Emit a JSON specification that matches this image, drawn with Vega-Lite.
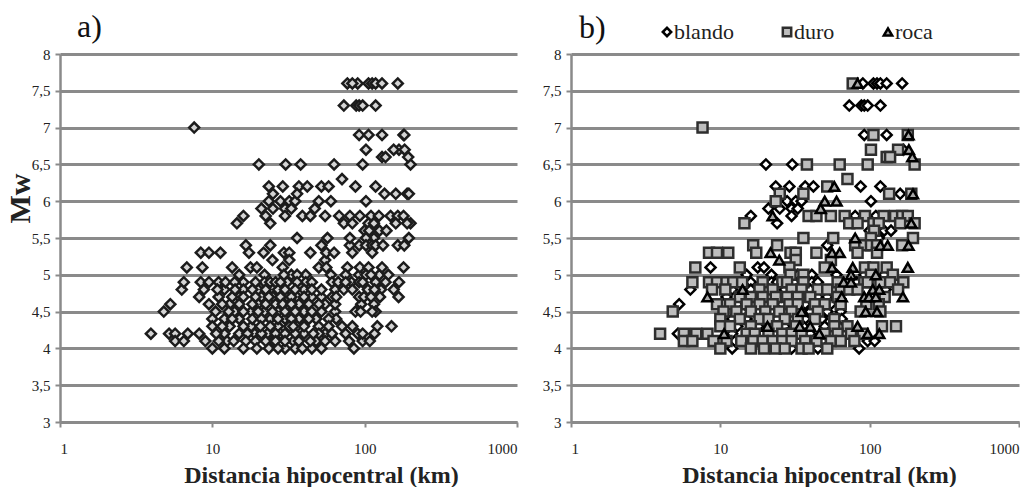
{
  "$schema": "https://vega.github.io/schema/vega-lite/v6.json",
  "background": "white",
  "padding": {"left": 5, "top": 11, "right": 0, "bottom": 0},
  "bounds": "flush",
  "spacing": 54,
  "resolve": {"legend": {"shape": "independent", "fill": "independent", "stroke": "independent"}},
  "config": {
    "font": "Liberation Serif",
    "view": {"stroke": null},
    "axis": {
      "labelFont": "Liberation Serif",
      "labelFontSize": 15,
      "labelColor": "#222222",
      "domainColor": "#8a8a8a",
      "domainWidth": 2.5,
      "tickColor": "#8a8a8a",
      "tickWidth": 2,
      "tickSize": 5,
      "gridColor": "#8a8a8a",
      "gridWidth": 3,
      "titleFont": "Liberation Serif",
      "titleFontWeight": "bold",
      "titleColor": "#222222"
    },
    "title": {"font": "Liberation Serif", "fontWeight": "normal", "fontSize": 32, "color": "#111111", "anchor": "start", "frame": "group"}
  },
  "datasets": {
    "sismos": [
      {"dist": 90, "mw": 7.6, "suelo": "blando"}, {"dist": 106, "mw": 7.6, "suelo": "blando"}, {"dist": 112, "mw": 7.6, "suelo": "blando"}, {"dist": 118, "mw": 7.6, "suelo": "blando"}, {"dist": 130, "mw": 7.6, "suelo": "blando"}, {"dist": 165, "mw": 7.6, "suelo": "blando"},
      {"dist": 73, "mw": 7.3, "suelo": "blando"}, {"dist": 88, "mw": 7.3, "suelo": "blando"}, {"dist": 92, "mw": 7.3, "suelo": "blando"}, {"dist": 97, "mw": 7.3, "suelo": "blando"}, {"dist": 118, "mw": 7.3, "suelo": "blando"},
      {"dist": 92, "mw": 6.9, "suelo": "blando"}, {"dist": 130, "mw": 6.9, "suelo": "blando"},
      {"dist": 168, "mw": 6.7, "suelo": "blando"},
      {"dist": 20.2, "mw": 6.5, "suelo": "blando"}, {"dist": 30.3, "mw": 6.5, "suelo": "blando"},
      {"dist": 23.5, "mw": 6.2, "suelo": "blando"}, {"dist": 29, "mw": 6.2, "suelo": "blando"}, {"dist": 37, "mw": 6.2, "suelo": "blando"}, {"dist": 42, "mw": 6.2, "suelo": "blando"}, {"dist": 87, "mw": 6.2, "suelo": "blando"}, {"dist": 118, "mw": 6.2, "suelo": "blando"},
      {"dist": 160, "mw": 6.1, "suelo": "blando"},
      {"dist": 28, "mw": 6.0, "suelo": "blando"}, {"dist": 32, "mw": 6.0, "suelo": "blando"}, {"dist": 35, "mw": 6.0, "suelo": "blando"}, {"dist": 102, "mw": 6.0, "suelo": "blando"},
      {"dist": 21, "mw": 5.9, "suelo": "blando"}, {"dist": 25, "mw": 5.9, "suelo": "blando"}, {"dist": 30, "mw": 5.9, "suelo": "blando"}, {"dist": 33, "mw": 5.9, "suelo": "blando"},
      {"dist": 16, "mw": 5.8, "suelo": "blando"}, {"dist": 30, "mw": 5.8, "suelo": "blando"}, {"dist": 80, "mw": 5.8, "suelo": "blando"}, {"dist": 110, "mw": 5.8, "suelo": "blando"},
      {"dist": 24, "mw": 5.7, "suelo": "blando"},
      {"dist": 100, "mw": 5.6, "suelo": "blando"}, {"dist": 125, "mw": 5.6, "suelo": "blando"}, {"dist": 139, "mw": 5.6, "suelo": "blando"},
      {"dist": 115, "mw": 5.5, "suelo": "blando"},
      {"dist": 52, "mw": 5.4, "suelo": "blando"},
      {"dist": 8.6, "mw": 5.1, "suelo": "blando"}, {"dist": 17.8, "mw": 5.1, "suelo": "blando"}, {"dist": 19.6, "mw": 5.1, "suelo": "blando"},
      {"dist": 15, "mw": 5.0, "suelo": "blando"}, {"dist": 22, "mw": 5.0, "suelo": "blando"}, {"dist": 33, "mw": 5.0, "suelo": "blando"}, {"dist": 41, "mw": 5.0, "suelo": "blando"}, {"dist": 60, "mw": 5.0, "suelo": "blando"}, {"dist": 92, "mw": 5.0, "suelo": "blando"}, {"dist": 125, "mw": 5.0, "suelo": "blando"},
      {"dist": 16, "mw": 4.9, "suelo": "blando"}, {"dist": 22, "mw": 4.9, "suelo": "blando"}, {"dist": 24, "mw": 4.9, "suelo": "blando"}, {"dist": 31, "mw": 4.9, "suelo": "blando"}, {"dist": 41, "mw": 4.9, "suelo": "blando"}, {"dist": 45, "mw": 4.9, "suelo": "blando"}, {"dist": 82, "mw": 4.9, "suelo": "blando"},
      {"dist": 6.3, "mw": 4.8, "suelo": "blando"}, {"dist": 12, "mw": 4.8, "suelo": "blando"}, {"dist": 16, "mw": 4.8, "suelo": "blando"}, {"dist": 20, "mw": 4.8, "suelo": "blando"}, {"dist": 25, "mw": 4.8, "suelo": "blando"}, {"dist": 27, "mw": 4.8, "suelo": "blando"}, {"dist": 40, "mw": 4.8, "suelo": "blando"}, {"dist": 128, "mw": 4.8, "suelo": "blando"},
      {"dist": 11, "mw": 4.7, "suelo": "blando"}, {"dist": 15, "mw": 4.7, "suelo": "blando"}, {"dist": 21, "mw": 4.7, "suelo": "blando"}, {"dist": 25, "mw": 4.7, "suelo": "blando"}, {"dist": 31, "mw": 4.7, "suelo": "blando"}, {"dist": 36, "mw": 4.7, "suelo": "blando"}, {"dist": 45, "mw": 4.7, "suelo": "blando"}, {"dist": 52, "mw": 4.7, "suelo": "blando"},
      {"dist": 5.3, "mw": 4.6, "suelo": "blando"}, {"dist": 13, "mw": 4.6, "suelo": "blando"}, {"dist": 20, "mw": 4.6, "suelo": "blando"}, {"dist": 26, "mw": 4.6, "suelo": "blando"}, {"dist": 37, "mw": 4.6, "suelo": "blando"}, {"dist": 55, "mw": 4.6, "suelo": "blando"},
      {"dist": 14, "mw": 4.5, "suelo": "blando"}, {"dist": 18, "mw": 4.5, "suelo": "blando"}, {"dist": 22, "mw": 4.5, "suelo": "blando"}, {"dist": 27, "mw": 4.5, "suelo": "blando"}, {"dist": 33, "mw": 4.5, "suelo": "blando"}, {"dist": 40, "mw": 4.5, "suelo": "blando"}, {"dist": 52, "mw": 4.5, "suelo": "blando"}, {"dist": 64, "mw": 4.5, "suelo": "blando"},
      {"dist": 12, "mw": 4.4, "suelo": "blando"}, {"dist": 15, "mw": 4.4, "suelo": "blando"}, {"dist": 24, "mw": 4.4, "suelo": "blando"}, {"dist": 30, "mw": 4.4, "suelo": "blando"}, {"dist": 37, "mw": 4.4, "suelo": "blando"}, {"dist": 48, "mw": 4.4, "suelo": "blando"}, {"dist": 65, "mw": 4.4, "suelo": "blando"},
      {"dist": 13, "mw": 4.3, "suelo": "blando"}, {"dist": 18, "mw": 4.3, "suelo": "blando"}, {"dist": 27, "mw": 4.3, "suelo": "blando"}, {"dist": 36, "mw": 4.3, "suelo": "blando"}, {"dist": 50, "mw": 4.3, "suelo": "blando"},
      {"dist": 5.2, "mw": 4.2, "suelo": "blando"}, {"dist": 12, "mw": 4.2, "suelo": "blando"}, {"dist": 19, "mw": 4.2, "suelo": "blando"}, {"dist": 23, "mw": 4.2, "suelo": "blando"}, {"dist": 28, "mw": 4.2, "suelo": "blando"}, {"dist": 40, "mw": 4.2, "suelo": "blando"}, {"dist": 55, "mw": 4.2, "suelo": "blando"},
      {"dist": 12.5, "mw": 4.1, "suelo": "blando"}, {"dist": 25, "mw": 4.1, "suelo": "blando"}, {"dist": 34, "mw": 4.1, "suelo": "blando"}, {"dist": 48, "mw": 4.1, "suelo": "blando"}, {"dist": 97, "mw": 4.1, "suelo": "blando"}, {"dist": 108, "mw": 4.1, "suelo": "blando"},
      {"dist": 12, "mw": 4.0, "suelo": "blando"}, {"dist": 30, "mw": 4.0, "suelo": "blando"}, {"dist": 45, "mw": 4.0, "suelo": "blando"}, {"dist": 85, "mw": 4.0, "suelo": "blando"},

      {"dist": 77, "mw": 7.6, "suelo": "duro"},
      {"dist": 7.6, "mw": 7.0, "suelo": "duro"},
      {"dist": 106, "mw": 6.9, "suelo": "duro"}, {"dist": 180, "mw": 6.9, "suelo": "duro"},
      {"dist": 102, "mw": 6.7, "suelo": "duro"}, {"dist": 155, "mw": 6.7, "suelo": "duro"},
      {"dist": 130, "mw": 6.6, "suelo": "duro"}, {"dist": 137, "mw": 6.6, "suelo": "duro"},
      {"dist": 38, "mw": 6.5, "suelo": "duro"}, {"dist": 63, "mw": 6.5, "suelo": "duro"}, {"dist": 97, "mw": 6.5, "suelo": "duro"}, {"dist": 200, "mw": 6.5, "suelo": "duro"},
      {"dist": 71, "mw": 6.3, "suelo": "duro"},
      {"dist": 52, "mw": 6.2, "suelo": "duro"},
      {"dist": 25, "mw": 6.1, "suelo": "duro"}, {"dist": 36, "mw": 6.1, "suelo": "duro"}, {"dist": 135, "mw": 6.1, "suelo": "duro"}, {"dist": 190, "mw": 6.1, "suelo": "duro"},
      {"dist": 23.5, "mw": 6.0, "suelo": "duro"},
      {"dist": 39, "mw": 5.8, "suelo": "duro"}, {"dist": 44, "mw": 5.8, "suelo": "duro"}, {"dist": 55, "mw": 5.8, "suelo": "duro"}, {"dist": 68, "mw": 5.8, "suelo": "duro"}, {"dist": 93, "mw": 5.8, "suelo": "duro"}, {"dist": 124, "mw": 5.8, "suelo": "duro"}, {"dist": 148, "mw": 5.8, "suelo": "duro"}, {"dist": 165, "mw": 5.8, "suelo": "duro"}, {"dist": 180, "mw": 5.8, "suelo": "duro"},
      {"dist": 14.5, "mw": 5.7, "suelo": "duro"}, {"dist": 73, "mw": 5.7, "suelo": "duro"}, {"dist": 83, "mw": 5.7, "suelo": "duro"}, {"dist": 106, "mw": 5.7, "suelo": "duro"}, {"dist": 115, "mw": 5.7, "suelo": "duro"}, {"dist": 160, "mw": 5.7, "suelo": "duro"}, {"dist": 200, "mw": 5.7, "suelo": "duro"},
      {"dist": 107, "mw": 5.6, "suelo": "duro"},
      {"dist": 36, "mw": 5.5, "suelo": "duro"}, {"dist": 57, "mw": 5.5, "suelo": "duro"}, {"dist": 102, "mw": 5.5, "suelo": "duro"}, {"dist": 195, "mw": 5.5, "suelo": "duro"},
      {"dist": 16.6, "mw": 5.4, "suelo": "duro"}, {"dist": 24, "mw": 5.4, "suelo": "duro"}, {"dist": 80, "mw": 5.4, "suelo": "duro"}, {"dist": 92, "mw": 5.4, "suelo": "duro"}, {"dist": 102, "mw": 5.4, "suelo": "duro"}, {"dist": 112, "mw": 5.4, "suelo": "duro"}, {"dist": 165, "mw": 5.4, "suelo": "duro"},
      {"dist": 8.4, "mw": 5.3, "suelo": "duro"}, {"dist": 9.5, "mw": 5.3, "suelo": "duro"}, {"dist": 11.3, "mw": 5.3, "suelo": "duro"}, {"dist": 17.4, "mw": 5.3, "suelo": "duro"}, {"dist": 29.5, "mw": 5.3, "suelo": "duro"}, {"dist": 32, "mw": 5.3, "suelo": "duro"}, {"dist": 44, "mw": 5.3, "suelo": "duro"}, {"dist": 83, "mw": 5.3, "suelo": "duro"}, {"dist": 112, "mw": 5.3, "suelo": "duro"},
      {"dist": 32, "mw": 5.2, "suelo": "duro"}, {"dist": 55, "mw": 5.2, "suelo": "duro"},
      {"dist": 6.8, "mw": 5.1, "suelo": "duro"}, {"dist": 13.5, "mw": 5.1, "suelo": "duro"}, {"dist": 29, "mw": 5.1, "suelo": "duro"}, {"dist": 50, "mw": 5.1, "suelo": "duro"}, {"dist": 93, "mw": 5.1, "suelo": "duro"}, {"dist": 106, "mw": 5.1, "suelo": "duro"}, {"dist": 130, "mw": 5.1, "suelo": "duro"},
      {"dist": 29.5, "mw": 5.0, "suelo": "duro"}, {"dist": 36, "mw": 5.0, "suelo": "duro"}, {"dist": 102, "mw": 5.0, "suelo": "duro"}, {"dist": 143, "mw": 5.0, "suelo": "duro"},
      {"dist": 6.5, "mw": 4.9, "suelo": "duro"}, {"dist": 8.4, "mw": 4.9, "suelo": "duro"}, {"dist": 9.5, "mw": 4.9, "suelo": "duro"}, {"dist": 11, "mw": 4.9, "suelo": "duro"}, {"dist": 12.2, "mw": 4.9, "suelo": "duro"}, {"dist": 14, "mw": 4.9, "suelo": "duro"}, {"dist": 19.2, "mw": 4.9, "suelo": "duro"}, {"dist": 26, "mw": 4.9, "suelo": "duro"}, {"dist": 28, "mw": 4.9, "suelo": "duro"}, {"dist": 36, "mw": 4.9, "suelo": "duro"}, {"dist": 61, "mw": 4.9, "suelo": "duro"}, {"dist": 92, "mw": 4.9, "suelo": "duro"}, {"dist": 97, "mw": 4.9, "suelo": "duro"}, {"dist": 118, "mw": 4.9, "suelo": "duro"}, {"dist": 137, "mw": 4.9, "suelo": "duro"}, {"dist": 168, "mw": 4.9, "suelo": "duro"},
      {"dist": 8.8, "mw": 4.8, "suelo": "duro"}, {"dist": 10.8, "mw": 4.8, "suelo": "duro"}, {"dist": 18.3, "mw": 4.8, "suelo": "duro"}, {"dist": 22.4, "mw": 4.8, "suelo": "duro"}, {"dist": 30, "mw": 4.8, "suelo": "duro"}, {"dist": 35, "mw": 4.8, "suelo": "duro"}, {"dist": 45, "mw": 4.8, "suelo": "duro"}, {"dist": 52, "mw": 4.8, "suelo": "duro"}, {"dist": 64, "mw": 4.8, "suelo": "duro"}, {"dist": 73, "mw": 4.8, "suelo": "duro"}, {"dist": 83, "mw": 4.8, "suelo": "duro"}, {"dist": 155, "mw": 4.8, "suelo": "duro"},
      {"dist": 13.5, "mw": 4.7, "suelo": "duro"}, {"dist": 16, "mw": 4.7, "suelo": "duro"}, {"dist": 19.2, "mw": 4.7, "suelo": "duro"}, {"dist": 23.5, "mw": 4.7, "suelo": "duro"}, {"dist": 28, "mw": 4.7, "suelo": "duro"}, {"dist": 33, "mw": 4.7, "suelo": "duro"}, {"dist": 40, "mw": 4.7, "suelo": "duro"}, {"dist": 61, "mw": 4.7, "suelo": "duro"}, {"dist": 126, "mw": 4.7, "suelo": "duro"},
      {"dist": 9.5, "mw": 4.6, "suelo": "duro"}, {"dist": 11.6, "mw": 4.6, "suelo": "duro"}, {"dist": 15, "mw": 4.6, "suelo": "duro"}, {"dist": 18.3, "mw": 4.6, "suelo": "duro"}, {"dist": 22.4, "mw": 4.6, "suelo": "duro"}, {"dist": 29, "mw": 4.6, "suelo": "duro"}, {"dist": 33, "mw": 4.6, "suelo": "duro"}, {"dist": 43, "mw": 4.6, "suelo": "duro"}, {"dist": 50, "mw": 4.6, "suelo": "duro"}, {"dist": 64, "mw": 4.6, "suelo": "duro"}, {"dist": 95, "mw": 4.6, "suelo": "duro"}, {"dist": 115, "mw": 4.6, "suelo": "duro"},
      {"dist": 4.8, "mw": 4.5, "suelo": "duro"}, {"dist": 10.5, "mw": 4.5, "suelo": "duro"}, {"dist": 12.8, "mw": 4.5, "suelo": "duro"}, {"dist": 16, "mw": 4.5, "suelo": "duro"}, {"dist": 20, "mw": 4.5, "suelo": "duro"}, {"dist": 24.8, "mw": 4.5, "suelo": "duro"}, {"dist": 30, "mw": 4.5, "suelo": "duro"}, {"dist": 45, "mw": 4.5, "suelo": "duro"}, {"dist": 87, "mw": 4.5, "suelo": "duro"}, {"dist": 118, "mw": 4.5, "suelo": "duro"},
      {"dist": 10, "mw": 4.4, "suelo": "duro"}, {"dist": 13.5, "mw": 4.4, "suelo": "duro"}, {"dist": 18.3, "mw": 4.4, "suelo": "duro"}, {"dist": 21, "mw": 4.4, "suelo": "duro"}, {"dist": 27, "mw": 4.4, "suelo": "duro"}, {"dist": 33, "mw": 4.4, "suelo": "duro"}, {"dist": 43, "mw": 4.4, "suelo": "duro"}, {"dist": 58, "mw": 4.4, "suelo": "duro"},
      {"dist": 10, "mw": 4.3, "suelo": "duro"}, {"dist": 11.6, "mw": 4.3, "suelo": "duro"}, {"dist": 16, "mw": 4.3, "suelo": "duro"}, {"dist": 24, "mw": 4.3, "suelo": "duro"}, {"dist": 32, "mw": 4.3, "suelo": "duro"}, {"dist": 58, "mw": 4.3, "suelo": "duro"}, {"dist": 71, "mw": 4.3, "suelo": "duro"}, {"dist": 121, "mw": 4.3, "suelo": "duro"}, {"dist": 150, "mw": 4.3, "suelo": "duro"},
      {"dist": 3.95, "mw": 4.2, "suelo": "duro"}, {"dist": 5.7, "mw": 4.2, "suelo": "duro"}, {"dist": 6.9, "mw": 4.2, "suelo": "duro"}, {"dist": 8.2, "mw": 4.2, "suelo": "duro"}, {"dist": 15, "mw": 4.2, "suelo": "duro"}, {"dist": 17, "mw": 4.2, "suelo": "duro"}, {"dist": 21, "mw": 4.2, "suelo": "duro"}, {"dist": 26, "mw": 4.2, "suelo": "duro"}, {"dist": 30, "mw": 4.2, "suelo": "duro"}, {"dist": 35, "mw": 4.2, "suelo": "duro"}, {"dist": 50, "mw": 4.2, "suelo": "duro"}, {"dist": 61, "mw": 4.2, "suelo": "duro"}, {"dist": 75, "mw": 4.2, "suelo": "duro"}, {"dist": 90, "mw": 4.2, "suelo": "duro"},
      {"dist": 5.7, "mw": 4.1, "suelo": "duro"}, {"dist": 6.5, "mw": 4.1, "suelo": "duro"}, {"dist": 9, "mw": 4.1, "suelo": "duro"}, {"dist": 11, "mw": 4.1, "suelo": "duro"}, {"dist": 13.8, "mw": 4.1, "suelo": "duro"}, {"dist": 16.6, "mw": 4.1, "suelo": "duro"}, {"dist": 19.2, "mw": 4.1, "suelo": "duro"}, {"dist": 22.4, "mw": 4.1, "suelo": "duro"}, {"dist": 26, "mw": 4.1, "suelo": "duro"}, {"dist": 30, "mw": 4.1, "suelo": "duro"}, {"dist": 37, "mw": 4.1, "suelo": "duro"}, {"dist": 44, "mw": 4.1, "suelo": "duro"}, {"dist": 55, "mw": 4.1, "suelo": "duro"}, {"dist": 64, "mw": 4.1, "suelo": "duro"}, {"dist": 79, "mw": 4.1, "suelo": "duro"},
      {"dist": 10, "mw": 4.0, "suelo": "duro"}, {"dist": 16, "mw": 4.0, "suelo": "duro"}, {"dist": 19.6, "mw": 4.0, "suelo": "duro"}, {"dist": 23.5, "mw": 4.0, "suelo": "duro"}, {"dist": 27, "mw": 4.0, "suelo": "duro"}, {"dist": 35, "mw": 4.0, "suelo": "duro"}, {"dist": 39, "mw": 4.0, "suelo": "duro"}, {"dist": 52, "mw": 4.0, "suelo": "duro"},

      {"dist": 83, "mw": 7.6, "suelo": "roca"},
      {"dist": 182, "mw": 6.9, "suelo": "roca"},
      {"dist": 183, "mw": 6.7, "suelo": "roca"}, {"dist": 193, "mw": 6.6, "suelo": "roca"},
      {"dist": 58, "mw": 6.2, "suelo": "roca"},
      {"dist": 195, "mw": 6.1, "suelo": "roca"},
      {"dist": 50, "mw": 6.0, "suelo": "roca"}, {"dist": 60, "mw": 6.0, "suelo": "roca"},
      {"dist": 47, "mw": 5.9, "suelo": "roca"},
      {"dist": 22.4, "mw": 5.8, "suelo": "roca"},
      {"dist": 190, "mw": 5.7, "suelo": "roca"},
      {"dist": 80, "mw": 5.5, "suelo": "roca"},
      {"dist": 118, "mw": 5.4, "suelo": "roca"}, {"dist": 132, "mw": 5.4, "suelo": "roca"}, {"dist": 182, "mw": 5.4, "suelo": "roca"},
      {"dist": 21.7, "mw": 5.3, "suelo": "roca"}, {"dist": 56, "mw": 5.3, "suelo": "roca"}, {"dist": 63, "mw": 5.3, "suelo": "roca"},
      {"dist": 24.8, "mw": 5.2, "suelo": "roca"},
      {"dist": 56, "mw": 5.1, "suelo": "roca"}, {"dist": 77, "mw": 5.1, "suelo": "roca"}, {"dist": 180, "mw": 5.1, "suelo": "roca"},
      {"dist": 75, "mw": 5.0, "suelo": "roca"}, {"dist": 110, "mw": 5.0, "suelo": "roca"},
      {"dist": 67, "mw": 4.9, "suelo": "roca"}, {"dist": 75, "mw": 4.9, "suelo": "roca"},
      {"dist": 14.1, "mw": 4.8, "suelo": "roca"}, {"dist": 105, "mw": 4.8, "suelo": "roca"}, {"dist": 116, "mw": 4.8, "suelo": "roca"},
      {"dist": 8.2, "mw": 4.7, "suelo": "roca"}, {"dist": 65, "mw": 4.7, "suelo": "roca"}, {"dist": 92, "mw": 4.7, "suelo": "roca"}, {"dist": 99, "mw": 4.7, "suelo": "roca"}, {"dist": 110, "mw": 4.7, "suelo": "roca"}, {"dist": 167, "mw": 4.7, "suelo": "roca"},
      {"dist": 35, "mw": 4.5, "suelo": "roca"}, {"dist": 94, "mw": 4.5, "suelo": "roca"}, {"dist": 112, "mw": 4.5, "suelo": "roca"},
      {"dist": 20.7, "mw": 4.3, "suelo": "roca"}, {"dist": 34, "mw": 4.3, "suelo": "roca"}, {"dist": 40, "mw": 4.3, "suelo": "roca"}, {"dist": 83, "mw": 4.3, "suelo": "roca"},
      {"dist": 10.6, "mw": 4.2, "suelo": "roca"}, {"dist": 46, "mw": 4.2, "suelo": "roca"}, {"dist": 97, "mw": 4.2, "suelo": "roca"}, {"dist": 116, "mw": 4.2, "suelo": "roca"}
    ]
  },
  "hconcat": [
    {
      "width": 457,
      "height": 368,
      "title": {"text": "a)", "dx": 17, "offset": 3},
      "data": {"name": "sismos"},
      "mark": {"type": "point", "shape": "diamond", "filled": true, "fill": "#d4d4d4", "stroke": "#1c1c1c", "strokeWidth": 2.5, "size": 100, "opacity": 1},
      "encoding": {
        "x": {
          "field": "dist", "type": "quantitative",
          "scale": {"type": "log", "domain": [1, 1000]},
          "axis": {"values": [1, 10, 100, 1000], "format": "d", "grid": false, "labelPadding": 14, "title": "Distancia hipocentral (km)", "titleFontSize": 24, "titleX": 261, "titleY": 60, "titleBaseline": "alphabetic", "titleAlign": "center"}
        },
        "y": {
          "field": "mw", "type": "quantitative",
          "scale": {"domain": [3, 8], "nice": false, "zero": false},
          "axis": {"values": [3, 3.5, 4, 4.5, 5, 5.5, 6, 6.5, 7, 7.5, 8], "labelExpr": "replace(toString(datum.value), '.', ',')", "labelPadding": 5, "title": "Mw", "titleFontSize": 30, "titleAngle": -90, "titleX": -31, "titleY": 144, "titleAlign": "center", "titleBaseline": "alphabetic"}
        }
      }
    },
    {
      "width": 448,
      "height": 368,
      "title": {"text": "b)", "dx": 8, "dy": 27, "offset": 3},
      "data": {"name": "sismos"},
      "mark": {"type": "point", "filled": true, "strokeWidth": 2.5, "size": 100, "opacity": 1},
      "encoding": {
        "x": {
          "field": "dist", "type": "quantitative",
          "scale": {"type": "log", "domain": [1, 1000]},
          "axis": {"values": [1, 10, 100, 1000], "format": "d", "grid": false, "labelPadding": 14, "title": "Distancia hipocentral (km)", "titleFontSize": 24, "titleX": 248, "titleY": 60, "titleBaseline": "alphabetic", "titleAlign": "center"}
        },
        "y": {
          "field": "mw", "type": "quantitative",
          "scale": {"domain": [3, 8], "nice": false, "zero": false},
          "axis": {"values": [3, 3.5, 4, 4.5, 5, 5.5, 6, 6.5, 7, 7.5, 8], "labelExpr": "replace(toString(datum.value), '.', ',')", "labelPadding": 5, "title": null}
        },
        "shape": {
          "field": "suelo", "type": "nominal",
          "scale": {"domain": ["blando", "duro", "roca"], "range": ["diamond", "square", "triangle-up"]},
          "legend": {"orient": "none", "legendX": 85, "legendY": -33, "direction": "horizontal", "title": null, "labelFont": "Liberation Serif", "labelFontSize": 22, "labelColor": "#222222", "symbolSize": 70, "symbolStrokeWidth": 2.5, "columnPadding": 42, "labelOffset": -4}
        },
        "fill": {
          "field": "suelo", "type": "nominal",
          "scale": {"domain": ["blando", "duro", "roca"], "range": ["#ffffff", "#bdbdbd", "#a8a8a8"]},
          "legend": {"orient": "none", "legendX": 85, "legendY": -33, "direction": "horizontal", "title": null, "labelFont": "Liberation Serif", "labelFontSize": 22, "labelColor": "#222222", "symbolSize": 70, "symbolStrokeWidth": 2.5, "columnPadding": 42, "labelOffset": -4}
        },
        "stroke": {
          "field": "suelo", "type": "nominal",
          "scale": {"domain": ["blando", "duro", "roca"], "range": ["#000000", "#2e2e2e", "#000000"]},
          "legend": {"orient": "none", "legendX": 85, "legendY": -33, "direction": "horizontal", "title": null, "labelFont": "Liberation Serif", "labelFontSize": 22, "labelColor": "#222222", "symbolSize": 70, "symbolStrokeWidth": 2.5, "columnPadding": 42, "labelOffset": -4}
        }
      }
    }
  ]
}
